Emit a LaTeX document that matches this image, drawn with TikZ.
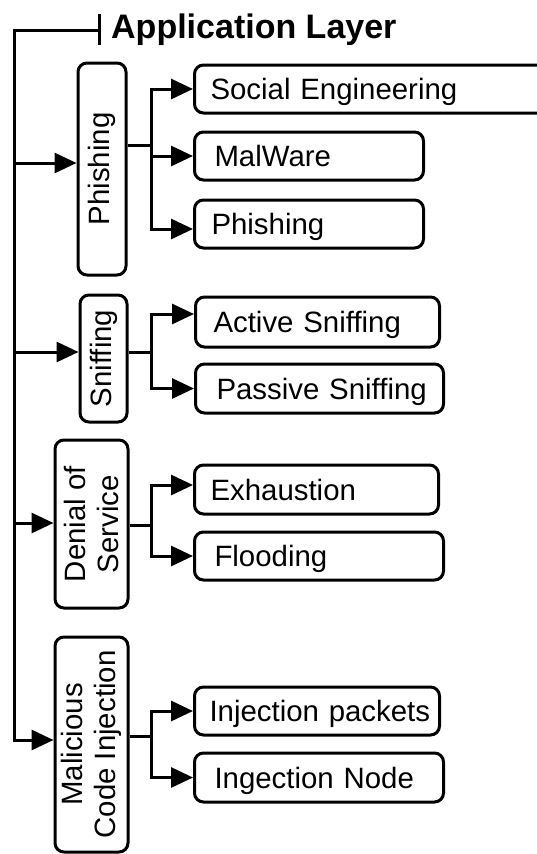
\documentclass[tikz,border=0pt]{standalone}
\usepackage{fontspec}
\setmainfont{Liberation Sans}
\usetikzlibrary{arrows.meta}
\newcommand\leaftext[2]{\hspace*{#1}\rlap{#2}}
\begin{document}
\begin{tikzpicture}[x=1pt,y=-1pt,
  conn/.style={line width=3pt},
  arr/.style={conn,-{Triangle[length=22pt,width=20pt]}},
  leaf/.style={draw,line width=3pt,rounded corners=9pt,anchor=west,minimum height=48pt,inner xsep=10pt,inner ysep=0pt,align=left,text height=21pt,text depth=0pt,font=\fontsize{29.4}{33.5}\selectfont},
  parbox/.style={draw,line width=3pt,rounded corners=9pt,rotate=90,inner sep=2pt,align=center,font=\fontsize{29.4}{33.5}\selectfont}]
\useasboundingbox (0,0) rectangle (537,854);
\clip (0,0) rectangle (537,854);

% title
\node[anchor=base west,inner sep=0pt,font=\fontsize{34}{40}\selectfont\bfseries] (title) at (111,38.5) {Application Layer};

% parent boxes
\node[parbox,minimum width=212pt,minimum height=48pt] (phish) at (102,169) {Phishing};
\node[parbox,minimum width=127pt,minimum height=47pt] (sniff) at (103.5,358.5) {Sniffing};
\node[parbox,minimum width=168pt,minimum height=73pt] (dos) at (91.5,524) {Denial of\\Service};
\node[parbox,minimum width=215pt,minimum height=73pt] (mci) at (91.5,744.5) {Malicious\\Code Injection};

% leaf boxes
\node[leaf,text width=332pt] (se) at (193,89) {\leaftext{6pt}{Social Engineering}};
\node[leaf,text width=209pt] (mw) at (193,156) {\leaftext{10pt}{MalWare}};
\node[leaf,text width=209pt] (pl) at (193,224) {\leaftext{7pt}{Phishing}};
\node[leaf,text width=224pt,minimum height=50pt] (as) at (194,322) {\leaftext{8pt}{Active Sniffing}};
\node[leaf,text width=228pt,minimum height=49pt] (ps) at (194,388.5) {\leaftext{11pt}{Passive Sniffing}};
\node[leaf,text width=224pt,minimum height=49pt] (ex) at (193,489.5) {\leaftext{6pt}{Exhaustion}};
\node[leaf,text width=229pt] (fl) at (193,556) {\leaftext{10pt}{Flooding}};
\node[leaf,text width=225pt] (ip) at (193,711) {\leaftext{5pt}{Injection packets}};
\node[leaf,text width=229pt,minimum height=49pt] (ingn) at (193,777.5) {\leaftext{10pt}{Ingection Node}};

% coordinates
\coordinate (top) at (14,30);
\coordinate (bar) at (99,30);
\coordinate (pP) at ([yshift=6pt]phish.north);
\coordinate (pS) at ([yshift=6.5pt]sniff.north);
\coordinate (pD) at ([yshift=1pt]dos.north);
\coordinate (pM) at ([yshift=4.5pt]mci.north);
\coordinate (oP) at ([yshift=24pt]phish.south);
\coordinate (oS) at ([yshift=6.5pt]sniff.south);
\coordinate (oD) at ([yshift=-1pt]dos.south);
\coordinate (oM) at ([yshift=8.5pt]mci.south);
\coordinate (jP) at (151,145);
\coordinate (jS) at (151,352);
\coordinate (jD) at (151,525);
\coordinate (jM) at (151,736);

% trunk
\draw[conn] ([yshift=16pt]bar) -- ([yshift=-15pt]bar);
\draw[arr] (bar) -- (top) |- (pM);
\draw[arr] (top |- pP) -- (pP);
\draw[arr] (top |- pS) -- (pS);
\draw[arr] (top |- pD) -- (pD);

% branches
\draw[conn] (oP) -- (jP);
\draw[arr] (jP) |- (se.west);
\draw[arr] (jP) |- (mw.west);
\draw[arr] (jP) |- ([yshift=-5pt]pl.west);

\draw[conn] (oS) -- (jS);
\draw[arr] (jS) |- ([yshift=8pt]as.west);
\draw[arr] (jS) |- (ps.west);

\draw[conn] (oD) -- (jD);
\draw[arr] (jD) |- ([yshift=4.5pt]ex.west);
\draw[arr] (jD) |- (fl.west);

\draw[conn] (oM) -- (jM);
\draw[arr] (jM) |- (ip.west);
\draw[arr] (jM) |- (ingn.west);
\end{tikzpicture}
\end{document}
